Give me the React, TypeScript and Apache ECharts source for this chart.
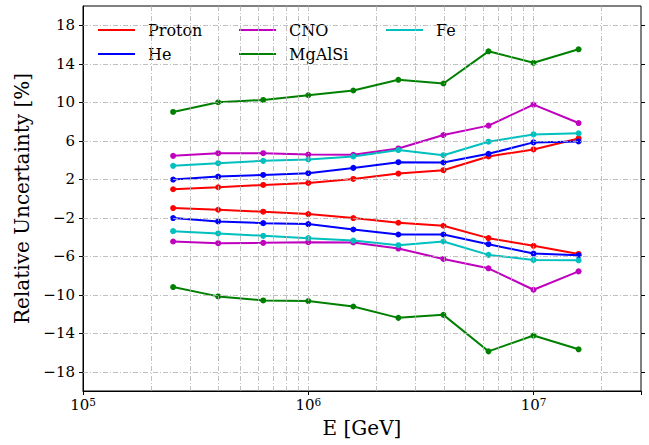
import React, { useEffect, useRef } from 'react';
import * as echarts from 'echarts';

const energies = [2.512e5, 3.981e5, 6.31e5, 1.0e6, 1.585e6, 2.512e6, 3.981e6, 6.31e6, 1.0e7, 1.585e7];
const protonUp = [0.96, 1.17, 1.41, 1.62, 2.03, 2.59, 2.94, 4.37, 5.1, 6.24];
const protonLow = [-0.99, -1.17, -1.37, -1.62, -2.03, -2.52, -2.83, -4.12, -4.92, -5.76];
const heUp = [1.97, 2.28, 2.45, 2.63, 3.18, 3.77, 3.74, 4.64, 5.83, 5.93];
const heLow = [-2.03, -2.38, -2.56, -2.66, -3.22, -3.74, -3.74, -4.75, -5.72, -5.9];
const cnoUp = [4.43, 4.71, 4.71, 4.57, 4.54, 5.2, 6.59, 7.57, 9.76, 7.84];
const cnoLow = [-4.47, -4.64, -4.61, -4.54, -4.57, -5.2, -6.28, -7.25, -9.48, -7.57];
const mgUp = [8.99, 10.0, 10.24, 10.73, 11.22, 12.33, 11.95, 15.29, 14.1, 15.5];
const mgLow = [-9.2, -10.17, -10.59, -10.66, -11.22, -12.4, -12.09, -15.88, -14.24, -15.67];
const feUp = [3.39, 3.67, 3.91, 4.05, 4.37, 5.03, 4.5, 5.9, 6.66, 6.77];
const feLow = [-3.39, -3.63, -3.88, -4.12, -4.37, -4.85, -4.47, -5.86, -6.38, -6.42];

const yTicks = [-18, -14, -10, -6, -2, 2, 6, 10, 14, 18];
const xGridValues = [
  2e5, 3e5, 4e5, 5e5, 6e5, 7e5, 8e5, 9e5, 1e6,
  2e6, 3e6, 4e6, 5e6, 6e6, 7e6, 8e6, 9e6, 1e7,
  2e7,
];

const FONT = "'DejaVu Serif', serif";
const GRID_COLOR = '#b0b0b0';
const DASHDOT = [5, 2, 1, 2];

const elements = [
  { name: 'Proton', color: '#ff0000', up: protonUp, low: protonLow },
  { name: 'He', color: '#0000ff', up: heUp, low: heLow },
  { name: 'CNO', color: '#bf00bf', up: cnoUp, low: cnoLow },
  { name: 'MgAlSi', color: '#008000', up: mgUp, low: mgLow },
  { name: 'Fe', color: '#00bfbf', up: feUp, low: feLow },
];

const pairs = (vals: number[]) => energies.map((e, i) => [e, vals[i]]);

export default function App() {
  const ref = useRef<HTMLDivElement>(null);
  useEffect(() => {
    if (!ref.current) return;
    const chart = echarts.init(ref.current, null, { renderer: 'svg' });
    const series: any[] = [
      {
        type: 'line',
        name: '__grid',
        data: [],
        z: 1,
        silent: true,
        markLine: {
          silent: true,
          symbol: 'none',
          label: { show: false },
          animation: false,
          lineStyle: { color: GRID_COLOR, width: 0.8, type: DASHDOT },
          data: [
            ...xGridValues.map((v) => ({ xAxis: v })),
            ...yTicks.map((v) => ({ yAxis: v })),
          ],
        },
      },
    ];
    elements.forEach((el) => {
      [el.up, el.low].forEach((vals) => {
        series.push({
          type: 'line',
          name: el.name,
          data: pairs(vals),
          z: 3,
          symbol: 'circle',
          symbolSize: 6,
          showSymbol: true,
          lineStyle: { color: el.color, width: 2 },
          itemStyle: { color: el.color },
        });
      });
    });

    const legendBase = {
      orient: 'vertical',
      icon: 'rect',
      itemWidth: 37,
      itemHeight: 2,
      itemGap: 8,
      padding: 0,
      selectedMode: false,
      textStyle: { fontFamily: FONT, fontSize: 16, color: '#000', lineHeight: 16, padding: [0, 0, 0, 8] },
    };

    chart.setOption({
      animation: false,
      backgroundColor: '#fff',
      textStyle: { fontFamily: FONT },
      grid: {
        left: 83,
        right: 8,
        top: 6,
        bottom: 54,
        show: true,
        borderColor: '#000',
        borderWidth: 1,
        containLabel: false,
      },
      legend: [
        { ...legendBase, left: 98, top: 22, data: ['Proton', 'He'] },
        { ...legendBase, left: 239, top: 22, data: ['CNO', 'MgAlSi'] },
        { ...legendBase, left: 386, top: 22, data: ['Fe'] },
      ],
      xAxis: {
        type: 'log',
        logBase: 10,
        min: 1e5,
        max: 3e7,
        name: 'E [GeV]',
        nameLocation: 'middle',
        nameGap: 27,
        nameTextStyle: { fontFamily: FONT, fontSize: 20, color: '#000' },
        axisLine: { show: true, onZero: false, lineStyle: { color: '#000', width: 1 } },
        axisTick: { show: true, length: 4, lineStyle: { color: '#000' } },
        splitLine: { show: false },
        axisLabel: {
          margin: 5,
          fontFamily: FONT,
          color: '#000',
          formatter: (v: number) => {
            const p = Math.log10(v);
            if (Math.abs(p - Math.round(p)) > 1e-6) return '';
            return '{base|10}{sup|' + Math.round(p) + '}';
          },
          rich: {
            base: { fontFamily: FONT, fontSize: 15, color: '#000' },
            sup: { fontFamily: FONT, fontSize: 10.5, color: '#000', verticalAlign: 'bottom', padding: [0, 0, 7, 0] },
          },
        },
      },
      yAxis: [
        {
          type: 'value',
          min: -20,
          max: 20,
          name: 'Relative Uncertainty [%]',
          nameLocation: 'middle',
          nameGap: 47,
          nameRotate: 90,
          nameTextStyle: { fontFamily: FONT, fontSize: 20, color: '#000' },
          axisLine: { show: true, onZero: false, lineStyle: { color: '#000', width: 1 } },
          axisTick: { show: true, length: 4, customValues: yTicks, lineStyle: { color: '#000' } },
          splitLine: { show: false },
          axisLabel: {
            margin: 8,
            customValues: yTicks,
            fontFamily: FONT,
            fontSize: 15,
            color: '#000',
            formatter: (v: number) => (v < 0 ? '\u2212' + Math.abs(v) : String(v)),
          },
        },
        {
          type: 'value',
          position: 'right',
          min: -20,
          max: 20,
          axisLine: { show: false },
          axisTick: { show: true, length: 4, customValues: yTicks, lineStyle: { color: '#000' } },
          axisLabel: { show: false },
          splitLine: { show: false },
        },
      ],
      series,
    });
    return () => chart.dispose();
  }, []);
  return <div ref={ref} style={{ width: 649, height: 445, position: 'absolute', left: 0, top: 0 }} />;
}
